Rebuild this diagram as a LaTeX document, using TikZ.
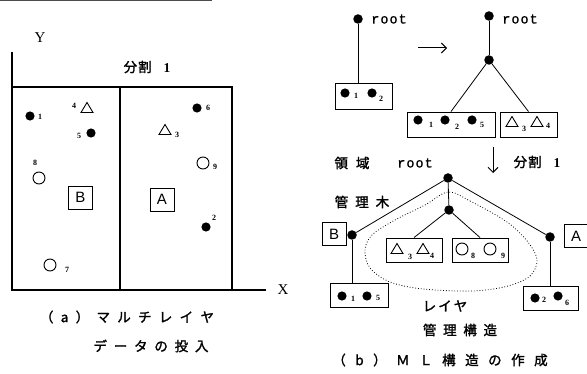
\documentclass[tikz,border=0pt]{standalone}
\usepackage{fontspec}
\setmainfont{Liberation Serif}
\newfontfamily\jp[FakeBold=1.6]{Noto Sans CJK JP}
\newfontfamily\mono[FakeBold=1.2]{Liberation Mono}
\newfontfamily\sansf{Liberation Sans}
\usetikzlibrary{arrows.meta,calc}

% letter-spaced text: \spread{gap}{characters}
\makeatletter
\newcommand\spread[2]{\def\sp@gap{#1}\sp@first#2\relax}
\def\sp@first#1{#1\sp@next}
\def\sp@next#1{\ifx#1\relax\else\hspace{\sp@gap}#1\expandafter\sp@next\fi}
\makeatother

\tikzset{
  axis/.style={line width=1.4pt},
  edge/.style={line width=0.8pt},
  tnode/.style={circle, fill, inner sep=0pt, minimum size=9.5pt},
  cbox/.style={draw, line width=0.9pt, inner sep=0pt},
  lettbox/.style={draw, line width=0.9pt, inner sep=0pt, minimum width=24pt,
    minimum height=23pt, font=\sansf\fontsize{15}{15}\selectfont},
  sub/.style={inner sep=0pt, font=\bfseries\fontsize{8}{8}\selectfont},
  jtext/.style={inner sep=0pt, font=\jp\fontsize{13.5}{13.5}\selectfont},
  roottext/.style={inner sep=0pt, font=\mono\fontsize{13.5}{13.5}\selectfont},
  axlabel/.style={inner sep=0pt, font=\fontsize{15}{15}\selectfont},
  arr/.style={line width=1pt, -{Straight Barb[length=5pt,width=10pt]}},
  opent/.pic={\draw[line width=0.9pt] (0,-5.5) -- (6,4.5) -- (-6,4.5) -- cycle;},
  openc/.pic={\draw[line width=0.9pt] (0,0) circle (6pt);},
  fullc/.pic={\fill (0,0) circle (4.6pt);}
}

\begin{document}
\begin{tikzpicture}[x=1pt,y=-1pt]
\useasboundingbox (0,0) rectangle (587,374);

% scanned edge at the top
\draw[black!70, line width=1.2pt] (0,0.7) -- (212,0.7);

% ---------- (a) plane with the data ----------
\coordinate (yt) at (12,52);
\coordinate (o) at (12,290);
\coordinate (xr) at (266,290);
\draw[axis] (yt) -- (o) -- (xr);
\coordinate (tl) at (12,87);
\coordinate (tr) at (232,87);
\coordinate (br) at (232,290);
\coordinate (mt) at (120,87);
\coordinate (mb) at (120,290);
\draw[axis] (tl) -- (tr) -- (br);
\draw[line width=1.1pt] (mt) -- (mb);

\node[axlabel] (ylab) at (40,38) {Y};
\node[axlabel] (xlab) at (283,290) {X};
\node[jtext] (div1) at (147,67)
  {分\hspace{1pt}割\hspace{12pt}{\rmfamily\bfseries 1}};

\node[lettbox] (bl) at (80.5,197.5) {B};
\node[lettbox] (al) at (162,199.5) {A};

\pic at (30,116) {fullc};   \node[sub] (p1) at (40,117) {1};
\node[sub] (p4) at (74,106) {4}; \pic at (87,108) {opent};
\node[sub] (p5) at (79,136) {5}; \pic at (91,133) {fullc};
\node[sub] (p8) at (35,163) {8}; \pic at (39,178) {openc};
\pic at (50,265) {openc};   \node[sub] (p7) at (67,270) {7};
\pic at (197,108) {fullc};  \node[sub] (p6) at (208,108) {6};
\pic at (165,130) {opent};  \node[sub] (p3) at (177,135) {3};
\pic at (203,163) {openc};  \node[sub] (p9) at (215,167) {9};
\pic at (206,227) {fullc};  \node[sub] (p2) at (214,218) {2};

\node[jtext] (capa1) at (127,317) {\spread{7.3pt}{（a）マルチレイヤ}};
\node[jtext] (capa2) at (151,346) {\spread{6.8pt}{データの投入}};

% ---------- (b) building the ML structure ----------
% step 1: a single leaf
\node[tnode] (r1) at (358,19) {};
\node[roottext] (r1t) at (389,19) {\spread{1pt}{root}};
\node[cbox, minimum width=57pt, minimum height=26pt] (b1) at (363.5,96) {};
\draw[edge] (r1) -- (b1.north -| r1);
\pic at (345,93) {fullc}; \node[sub] (b1s1) at (356,96) {1};
\pic at (372,93) {fullc}; \node[sub] (b1s2) at (381,99) {2};

\coordinate (ra1) at (418,48);
\coordinate (ra2) at (447,48);
\draw[arr] (ra1) -- (ra2);

% step 2: leaf split by layer
\node[tnode] (r2) at (489,16) {};
\node[roottext] (r2t) at (520,19) {\spread{1pt}{root}};
\node[tnode] (m2) at (489,60) {};
\node[cbox, minimum width=88pt, minimum height=25pt] (b2) at (451,124.5) {};
\node[cbox, minimum width=57pt, minimum height=25pt] (b3) at (528.5,124.5) {};
\draw[edge] (r2) -- (m2);
\draw[edge] (m2) -- (b2.north);
\draw[edge] (m2) -- (b3.north);
\pic at (418,120) {fullc}; \node[sub] (b2s1) at (431,125) {1};
\pic at (445,120) {fullc}; \node[sub] (b2s2) at (457,127) {2};
\pic at (472,120) {fullc}; \node[sub] (b2s5) at (482,125) {5};
\pic at (512,122) {opent}; \node[sub] (b3s3) at (524,129) {3};
\pic at (537,122) {opent}; \node[sub] (b3s4) at (548,126) {4};

\coordinate (da1) at (493,147);
\coordinate (da2) at (493,173);
\draw[arr] (da1) -- (da2);
\node[jtext] (div2) at (537,162)
  {分\hspace{1pt}割\hspace{12pt}{\rmfamily\bfseries 1}};

% step 3: region tree with layer structure
\node[jtext] (ryo) at (352,163) {\spread{8pt}{領域}};
\node[jtext] (kan) at (362,202) {\spread{7pt}{管理木}};
\node[tnode] (r3) at (448,178) {};
\node[roottext] (r3t) at (415,163) {\spread{1pt}{root}};
\node[tnode] (bn) at (352,235) {};
\node[tnode] (an) at (550,237) {};
\node[tnode] (mn) at (449,210) {};
\node[lettbox] (bt) at (334,234) {B};
\node[lettbox] (at) at (576,236) {A};

\node[cbox, minimum width=56pt, minimum height=24pt] (bxt) at (414,250) {};
\node[cbox, minimum width=56pt, minimum height=24pt] (bxo) at (480,250) {};
\node[cbox, minimum width=58pt, minimum height=24pt] (bxb) at (359,295) {};
\node[cbox, minimum width=55pt, minimum height=24pt] (bxa) at (550.5,298) {};

\draw[edge] (r3) -- (bn);
\draw[edge] (r3) -- (an);
\draw[edge] (r3) -- (mn);
\draw[edge] (mn) -- (bxt.north);
\draw[edge] (mn) -- (bxo.north);
\draw[edge] (bn) -- (bn |- bxb.north);
\draw[edge] (an) -- (an |- bxa.north);

\pic at (397,249) {opent}; \node[sub] (ts3) at (410,257) {3};
\pic at (423,249) {opent}; \node[sub] (ts4) at (432,256) {4};
\pic at (462,249) {openc}; \node[sub] (os8) at (473,256) {8};
\pic at (490,249) {openc}; \node[sub] (os9) at (503,256) {9};
\pic at (342,296) {fullc}; \node[sub] (bs1) at (353,299) {1};
\pic at (367,296) {fullc}; \node[sub] (bs5) at (378,298) {5};
\pic at (535,298) {fullc}; \node[sub] (as2) at (544,300) {2};
\pic at (558,296) {fullc}; \node[sub] (as6) at (567,303) {6};

% dotted outline of the layer structure
\draw[dotted, line width=0.8pt] plot[smooth cycle, tension=0.55] coordinates {
  (448,192) (470,201) (507,222) (528,242) (537,260) (530,276) (508,286)
  (473,291) (423,289) (390,282) (370,268) (365,250) (372,235) (395,220)
  (425,205)};

\node[jtext] (lay) at (445,306) {\spread{2pt}{レイヤ}};
\node[jtext] (kks) at (460,330) {\spread{6.7pt}{管理構造}};
\node[jtext] (capb) at (440,360) {\spread{9.5pt}{（b）ＭＬ構造の作成}};
\end{tikzpicture}
\end{document}
